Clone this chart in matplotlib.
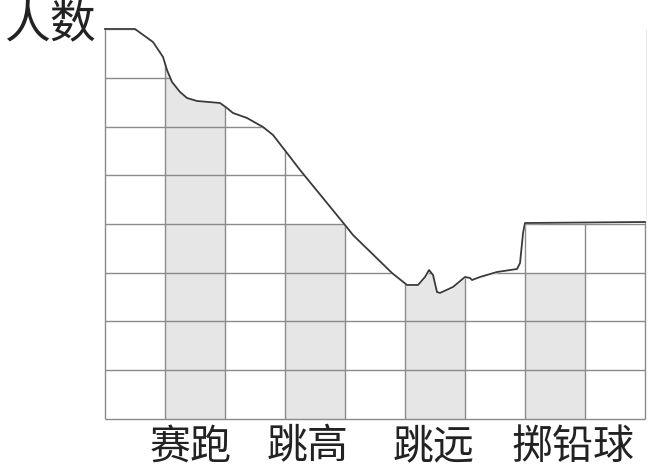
import matplotlib
matplotlib.use("Agg")
import matplotlib.pyplot as plt

plt.rcParams["font.family"] = ["Noto Sans CJK SC", "DejaVu Sans"]
plt.rcParams["hatch.color"] = "#c4c4c4"
plt.rcParams["hatch.linewidth"] = 0.5

# 项目与人数（格子单位；赛跑、跳远的顶端被撕掉看不见）
events = ["赛跑", "跳高", "跳远", "掷铅球"]
bar_pos = [1, 3, 5, 7]
counts = [8, 4, 3.5, 3]

n_cols = 9
n_rows = 8

# 撕掉纸片的边缘
edge_x = [0, 0.5, 0.8, 0.967, 1.033, 1.117, 1.25, 1.367, 1.533, 1.917, 2.033,
          2.133, 2.367, 2.633, 2.8, 3.033, 3.25, 4.0, 4.133, 4.783, 5.033,
          5.217, 5.333, 5.4, 5.467, 5.533, 5.583, 5.8, 6.0, 6.083, 6.117,
          6.25, 6.533, 6.867, 6.917, 6.967, 7.0, 7.083, 9.0]
edge_y = [8.0, 8.0, 7.733, 7.426, 7.159, 6.913, 6.708, 6.585, 6.523, 6.482,
          6.379, 6.277, 6.174, 5.990, 5.826, 5.456, 5.108, 3.979, 3.774, 2.995,
          2.749, 2.749, 2.913, 3.056, 2.954, 2.605, 2.585, 2.708, 2.913, 2.892,
          2.851, 2.913, 3.015, 3.077, 3.2, 3.815, 4.021, 4.021, 4.041]

label_x = [1.42, 3.38, 5.48, 7.8]

fig = plt.figure(figsize=(6.5, 4.75), dpi=100)
ax = fig.add_axes([0, 0, 1, 1])
ax.set_xlim(-1.75, 9.083)
ax.set_ylim(-1.149, 8.595)
ax.axis("off")

# 条形（带细点纹理）
ax.bar(bar_pos, counts, width=1, align="edge", color="#e6e6e6",
       edgecolor="none", hatch="......", zorder=1)

# 方格
ax.vlines(range(n_cols + 1), 0, n_rows, color="#8a8a8a", lw=1.0, zorder=2)
ax.hlines(range(n_rows + 1), 0, n_cols, color="#8a8a8a", lw=1.0, zorder=2)

# 撕掉的部分
ax.fill_between(edge_x, edge_y, 9, color="white", zorder=3)
ax.plot(edge_x, edge_y, color="#3a3a3a", lw=1.3, zorder=4)

for lx, name in zip(label_x, events):
    ax.text(lx, -0.58, name, ha="center", va="center", fontsize=29.5,
            color="#222222")

ax.text(-0.92, 8.1, "人数", ha="center", va="center", fontsize=33,
        color="#222222")

fig.savefig("out.png", dpi=100)
